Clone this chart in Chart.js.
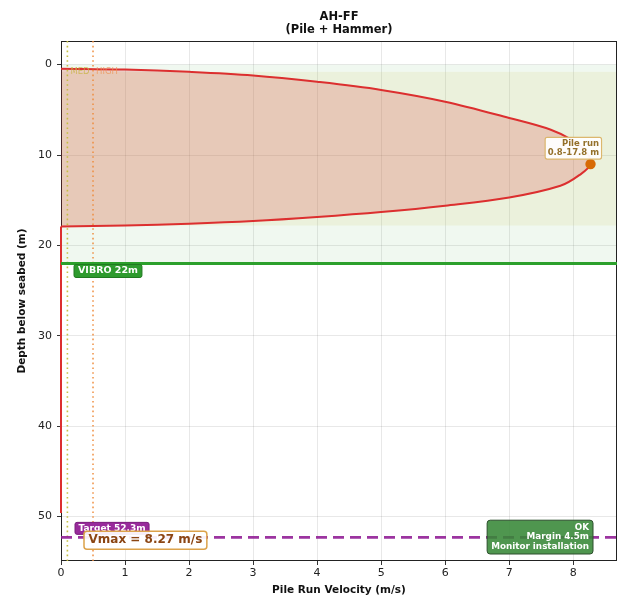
<!DOCTYPE html>
<html>
<head>
<meta charset="utf-8">
<script src="https://cdn.jsdelivr.net/npm/chart.js@4/dist/chart.umd.min.js"></script>
<style>
  html, body { margin: 0; padding: 0; background: #ffffff; }
  canvas { display: block; }
</style>
</head>
<body>
<canvas id="chart" width="632" height="602"></canvas>
<script>
// Pile run velocity profile (depth in m below seabed, velocity in m/s)
const profileDepth    = [0.45, 0.55, 0.8, 1.2, 1.9, 2.8, 4.1, 5.9, 7.2, 8.4, 9.6, 11.0, 12.2, 13.4, 14.7, 15.6, 16.3, 16.85, 17.3, 17.6, 17.8, 17.9];
const profileVelocity = [0.0, 1.0, 2.0, 3.0, 4.0, 5.0, 6.0, 7.0, 7.65, 8.0, 8.2, 8.27, 8.1, 7.8, 7.0, 6.0, 5.0, 4.0, 3.0, 2.0, 1.0, 0.0];
// Below the run zone the pile is at rest
const restDepth    = [17.9, 49.6];
const restVelocity = [0.0, 0.0];

// Key levels
const vMax = 8.27;
const vMaxDepth = 11.0;
const pileRunZone = [0.8, 17.8];
const vibroDepth = 22;
const targetDepth = 52.3;
const marginM = 4.5;
const thresholdLines = [
  { name: 'MED',  velocity: 0.1, color: 'rgba(195,190,60,0.95)', text: 'rgba(200,180,70,0.8)' },
  { name: 'HIGH', velocity: 0.5, color: 'rgba(238,140,60,0.9)', text: 'rgba(238,150,90,0.8)' }
];

// Axes
const xTicks = [0, 1, 2, 3, 4, 5, 6, 7, 8];
const yTicks = [0, 10, 20, 30, 40, 50];
const xMax = vMax * 1.05;
const yMin = -targetDepth * 0.05;
const yMax = targetDepth * 1.05;

const FONT = "'DejaVu Sans', sans-serif";

function roundRect(ctx, x, y, w, h, r) {
  ctx.beginPath();
  ctx.moveTo(x + r, y);
  ctx.lineTo(x + w - r, y);
  ctx.quadraticCurveTo(x + w, y, x + w, y + r);
  ctx.lineTo(x + w, y + h - r);
  ctx.quadraticCurveTo(x + w, y + h, x + w - r, y + h);
  ctx.lineTo(x + r, y + h);
  ctx.quadraticCurveTo(x, y + h, x, y + h - r);
  ctx.lineTo(x, y + r);
  ctx.quadraticCurveTo(x, y, x + r, y);
  ctx.closePath();
}

// Draw a text box; anchor is the box's left/right edge and top (or bottom)
function labelBox(ctx, lines, opt) {
  ctx.save();
  ctx.font = opt.font;
  const padX = opt.padX, padY = opt.padY, lh = opt.lineHeight;
  const w = Math.max(...lines.map(l => ctx.measureText(l).width)) + padX * 2;
  const h = lines.length * lh + padY * 2;
  const x = opt.align === 'right' ? opt.x - w : opt.x;
  const y = opt.anchorBottom ? opt.y - h : opt.y;
  roundRect(ctx, x, y, w, h, opt.radius || 3);
  ctx.fillStyle = opt.bg;
  ctx.fill();
  ctx.lineWidth = opt.borderWidth || 1;
  ctx.strokeStyle = opt.border;
  ctx.stroke();
  ctx.fillStyle = opt.color;
  ctx.textBaseline = 'middle';
  ctx.textAlign = opt.align === 'right' ? 'right' : 'left';
  lines.forEach((l, i) => {
    const tx = opt.align === 'right' ? x + w - padX : x + padX;
    ctx.fillText(l, tx, y + padY + lh * (i + 0.5));
  });
  ctx.restore();
}

const overlay = {
  id: 'overlay',
  beforeDatasetsDraw(chart) {
    const { ctx, chartArea: a, scales: { y } } = chart;
    ctx.save();
    ctx.beginPath();
    ctx.rect(a.left, a.top, a.right - a.left, a.bottom - a.top);
    ctx.clip();
    // vibro zone band
    ctx.fillStyle = 'rgba(44,160,44,0.07)';
    ctx.fillRect(a.left, y.getPixelForValue(0), a.right - a.left, y.getPixelForValue(vibroDepth) - y.getPixelForValue(0));
    // pile run zone band
    ctx.fillStyle = 'rgba(200,190,60,0.11)';
    ctx.fillRect(a.left, y.getPixelForValue(pileRunZone[0]), a.right - a.left, y.getPixelForValue(pileRunZone[1]) - y.getPixelForValue(pileRunZone[0]));
    ctx.restore();
    // axes frame
    ctx.save();
    ctx.strokeStyle = '#222';
    ctx.lineWidth = 1;
    ctx.strokeRect(a.left + 0.5, a.top + 0.5, a.right - a.left - 1, a.bottom - a.top - 1);
    ctx.restore();
  },
  afterDatasetsDraw(chart) {
    const { ctx, chartArea: a, scales: { x, y } } = chart;
    ctx.save();
    ctx.beginPath();
    ctx.rect(a.left, a.top, a.right - a.left, a.bottom - a.top);
    ctx.clip();

    // velocity threshold lines
    thresholdLines.forEach(t => {
      const px = x.getPixelForValue(t.velocity);
      ctx.save();
      ctx.strokeStyle = t.color;
      ctx.lineWidth = 1.6;
      ctx.setLineDash([1.6, 3.2]);
      ctx.beginPath();
      ctx.moveTo(px, a.top);
      ctx.lineTo(px, a.bottom);
      ctx.stroke();
      ctx.restore();
      ctx.save();
      ctx.fillStyle = t.text;
      ctx.font = '8.5px ' + FONT;
      ctx.textBaseline = 'middle';
      ctx.fillText(t.name, px + 3, y.getPixelForValue(0.75));
      ctx.restore();
    });

    // vibro refusal depth
    const vy = y.getPixelForValue(vibroDepth);
    ctx.strokeStyle = '#2ca02c';
    ctx.lineWidth = 3.2;
    ctx.beginPath();
    ctx.moveTo(a.left, vy);
    ctx.lineTo(a.right, vy);
    ctx.stroke();

    // target penetration
    const ty = y.getPixelForValue(targetDepth);
    ctx.strokeStyle = 'rgba(145,30,150,0.9)';
    ctx.lineWidth = 2.6;
    ctx.setLineDash([11, 6]);
    ctx.beginPath();
    ctx.moveTo(a.left, ty);
    ctx.lineTo(a.right, ty);
    ctx.stroke();
    ctx.setLineDash([]);
    ctx.restore();

    const x0 = x.getPixelForValue(0);

    labelBox(ctx, ['VIBRO ' + vibroDepth + 'm'], {
      x: x0 + 13, y: vy + 1, font: 'bold 9.5px ' + FONT, padX: 4, padY: 1.5, lineHeight: 10,
      bg: '#2e9b2e', border: '#207a20', color: '#ffffff', radius: 2
    });

    labelBox(ctx, ['Target ' + targetDepth + 'm'], {
      x: x0 + 14, y: ty - 3, anchorBottom: true, font: 'bold 9px ' + FONT, padX: 3.5, padY: 1, lineHeight: 10,
      bg: '#982a9b', border: '#7a1e7d', color: '#ffffff', radius: 2
    });

    labelBox(ctx, ['Vmax = ' + vMax.toFixed(2) + ' m/s'], {
      x: x0 + 23, y: ty - 6, font: 'bold 12px ' + FONT, padX: 4.5, padY: 2.5, lineHeight: 13,
      bg: 'rgba(255,255,255,0.92)', border: '#dca24a', borderWidth: 1.5, color: '#8b4513', radius: 3
    });

    labelBox(ctx, ['Pile run', pileRunZone[0] + '-' + pileRunZone[1] + ' m'], {
      x: x.getPixelForValue(vMax) + 11, y: y.getPixelForValue(vMaxDepth) - 5, anchorBottom: true, align: 'right',
      font: 'bold 8.5px ' + FONT, padX: 2.5, padY: 1, lineHeight: 9.8,
      bg: 'rgba(255,255,255,0.95)', border: '#dcb76e', borderWidth: 1.2, color: '#94702a', radius: 2
    });

    labelBox(ctx, ['OK', 'Margin ' + marginM + 'm', 'Monitor installation'], {
      x: a.right - 24, y: a.bottom - 7, anchorBottom: true, align: 'right',
      font: 'bold 8.8px ' + FONT, padX: 4, padY: 2.5, lineHeight: 9.6,
      bg: 'rgba(55,135,55,0.88)', border: '#2c4f2c', borderWidth: 1, color: '#ffffff', radius: 3
    });
  },
  afterDraw(chart) {
    const { ctx, chartArea: a } = chart;
    ctx.save();
    ctx.fillStyle = '#111';
    ctx.font = 'bold 11.5px ' + FONT;
    ctx.textAlign = 'center';
    ctx.textBaseline = 'middle';
    const cx = (a.left + a.right) / 2;
    ctx.fillText('AH-FF', cx, 17);
    ctx.fillText('(Pile + Hammer)', cx, 30);
    ctx.restore();
  }
};

const toPoints = (depths, vels) => depths.map((d, i) => ({ x: vels[i], y: d }));

new Chart(document.getElementById('chart'), {
  type: 'line',
  data: {
    datasets: [
      {
        label: 'Pile run velocity',
        data: toPoints(profileDepth, profileVelocity),
        borderColor: '#dc2f2f',
        borderWidth: 2,
        backgroundColor: 'rgba(214,39,40,0.2)',
        fill: 'origin',
        pointRadius: 0,
        tension: 0.35,
        clip: 3,
        order: 2
      },
      {
        label: 'At rest',
        data: toPoints(restDepth, restVelocity),
        borderColor: '#dc2f2f',
        borderWidth: 2,
        fill: false,
        pointRadius: 0,
        tension: 0,
        clip: 3,
        order: 3
      },
      {
        label: 'Vmax',
        data: [{ x: vMax, y: vMaxDepth }],
        showLine: false,
        pointRadius: 5.2,
        pointBackgroundColor: '#d76a05',
        pointBorderColor: '#d76a05',
        pointBorderWidth: 0,
        order: 1
      }
    ]
  },
  options: {
    indexAxis: 'y',
    responsive: false,
    animation: false,
    devicePixelRatio: 1,
    layout: { padding: { top: 41, right: 15, left: 0, bottom: 0 } },
    plugins: {
      legend: { display: false },
      tooltip: { enabled: false },
      title: { display: false }
    },
    scales: {
      x: {
        type: 'linear',
        position: 'bottom',
        min: 0,
        max: xMax,
        afterBuildTicks: s => { s.ticks = xTicks.map(v => ({ value: v })); },
        afterFit: s => { s.height = 41; },
        grid: { color: 'rgba(0,0,0,0.09)', lineWidth: 1, tickLength: 4, tickColor: '#333' },
        border: { display: false },
        ticks: { color: '#222', font: { family: FONT, size: 11 }, padding: 2, maxRotation: 0 },
        title: {
          display: true, text: 'Pile Run Velocity (m/s)', color: '#111',
          font: { family: FONT, size: 10.5, weight: 'bold' }, padding: { top: 0, bottom: 5 }
        }
      },
      y: {
        type: 'linear',
        reverse: true,
        min: yMin,
        max: yMax,
        afterBuildTicks: s => { s.ticks = yTicks.map(v => ({ value: v })); },
        afterFit: s => { s.width = 61; },
        grid: { color: 'rgba(0,0,0,0.09)', lineWidth: 1, tickLength: 4, tickColor: '#333' },
        border: { display: false },
        ticks: { color: '#222', font: { family: FONT, size: 11 }, padding: 5 },
        title: {
          display: true, text: 'Depth below seabed (m)', color: '#111',
          font: { family: FONT, size: 10.5, weight: 'bold' }, padding: { top: 16, bottom: 0 }
        }
      }
    }
  },
  plugins: [overlay]
});
</script>
</body>
</html>
